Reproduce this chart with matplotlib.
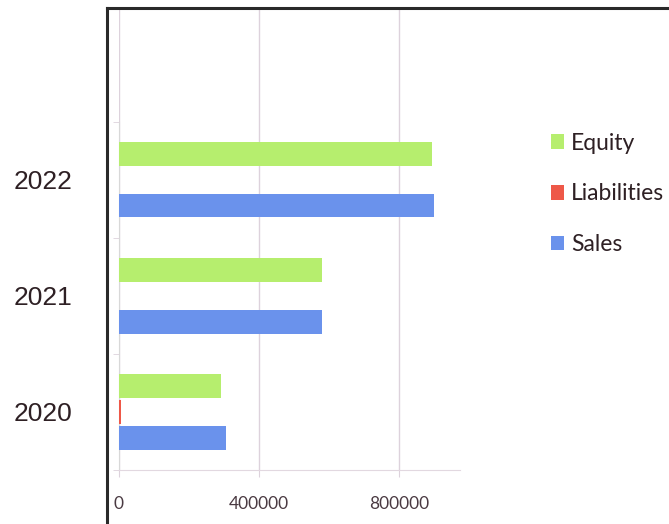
import matplotlib.pyplot as plt
import numpy as np
from matplotlib.lines import Line2D

years = ['2020', '2021', '2022']
equity = [291000, 580000, 895000]
liabilities = [7000, 0, 0]
sales = [305000, 580000, 900000]
series = ['Equity', 'Liabilities', 'Sales']
colors = ['#b6ee6e', '#ee5848', '#6a92ec']
xticks = [0, 400000, 800000]

W, H = 669, 524
fig = plt.figure(figsize=(W / 100, H / 100), dpi=100)
fig.patch.set_facecolor('white')


def px(x0, y0, x1, y1):
    # pixel box (top-left origin) -> figure fraction
    return [x0 / W, 1 - y1 / H, (x1 - x0) / W, (y1 - y0) / H]


ax = fig.add_axes(px(119, 8, 460, 470))

pos = np.arange(len(years))
off = 0.222
h = 0.205
ax.barh(pos + off, equity, height=h, color=colors[0], label=series[0], zorder=3)
ax.barh(pos, liabilities, height=h, color=colors[1], label=series[1], zorder=3)
ax.barh(pos - off, sales, height=h, color=colors[2], label=series[2], zorder=3)

ax.set_xlim(0, 974000)
ax.set_ylim(-0.49, 3.48)

ax.set_xticks(xticks)
ax.set_xticklabels([str(v) for v in xticks], fontfamily='Lato', fontsize=12.5,
                   color='#4a3a42')
ax.tick_params(axis='x', length=5, color='#ddd2dc', pad=14)
ax.grid(axis='x', color='#ddd2dc', linewidth=1, zorder=0)

ax.set_yticks(pos)
ax.set_yticklabels(years, fontfamily='Liberation Sans', fontsize=19,
                   color='#2e2024', ha='left')
ax.tick_params(axis='y', length=0, pad=76)
ax.set_yticks(np.arange(-0.5, 3, 1.0), minor=True)
ax.tick_params(axis='y', which='minor', length=4, color='#ddd2dc')

for s in ['top', 'right']:
    ax.spines[s].set_visible(False)
ax.spines['left'].set_color('#d8d8d8')
ax.spines['bottom'].set_color('#e2d8e0')
ax.spines['left'].set_bounds(-0.49, 2.5)

fig.legend(loc='upper left', bbox_to_anchor=(530 / W, 1 - 112 / H),
           frameon=False, prop={'family': 'Lato', 'size': 16.5},
           handlelength=0.6, handleheight=0.6, handletextpad=0.3,
           labelspacing=1.3, labelcolor='#2e2024')

# dark frame around the chart
frame = dict(color='#2a2a2a', linewidth=2.2, transform=fig.transFigure)
fig.add_artist(Line2D([107 / W, 1], [1 - 8 / H, 1 - 8 / H], **frame))
fig.add_artist(Line2D([107 / W, 107 / W], [0, 1 - 8 / H], **frame))

fig.savefig('out.png', dpi=100)
